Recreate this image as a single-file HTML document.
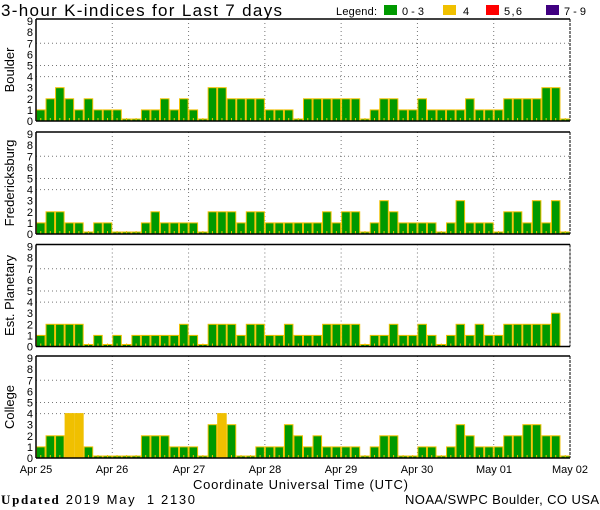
<!DOCTYPE html>
<html><head><meta charset="utf-8"><style>
html,body{margin:0;padding:0;background:#fff;}
svg{display:block;font-family:"Liberation Sans",sans-serif;}
</style></head><body>
<svg id="s" width="600" height="510" xmlns="http://www.w3.org/2000/svg">
<text x="1" y="16" font-size="17" textLength="281" lengthAdjust="spacing">3-hour K-indices for Last 7 days</text>
<text x="336" y="15" font-size="11" textLength="41">Legend:</text>
<rect x="384" y="5" width="13" height="10" fill="#009900"/><text x="402" y="15" font-size="11" textLength="22">0-3</text>
<rect x="443" y="5" width="13" height="10" fill="#f0c000"/><text x="463" y="15" font-size="11">4</text>
<rect x="486" y="5" width="13" height="10" fill="#ff0000"/><text x="504" y="15" font-size="11" textLength="18">5,6</text>
<rect x="546" y="5" width="13" height="10" fill="#400080"/><text x="564" y="15" font-size="11" textLength="22">7-9</text>
<g id="g"></g>
<g font-size="11" text-anchor="middle">
<text x="36" y="473">Apr 25</text><text x="112" y="473">Apr 26</text><text x="189" y="473">Apr 27</text><text x="265" y="473">Apr 28</text><text x="341" y="473">Apr 29</text><text x="417" y="473">Apr 30</text><text x="494" y="473">May 01</text><text x="570" y="473">May 02</text>
</g>
<text x="193" y="489" font-size="13" textLength="215" lengthAdjust="spacing">Coordinate Universal Time (UTC)</text>
<text x="1" y="504" font-size="13" textLength="194" lengthAdjust="spacing"><tspan font-family="Liberation Serif" font-weight="bold">Updated</tspan> 2019 May &#160;1 2130</text>
<text x="405" y="504" font-size="13" textLength="194" lengthAdjust="spacing">NOAA/SWPC Boulder, CO USA</text>
</svg>
<script>
var D=[
["Boulder",[1,2,3,2,1,2,1,1,1,0,0,1,1,2,1,2,1,0,3,3,2,2,2,2,1,1,1,0,2,2,2,2,2,2,0,1,2,2,1,1,2,1,1,1,1,2,1,1,1,2,2,2,2,3,3,0]],
["Fredericksburg",[1,2,2,1,1,0,1,1,0,0,0,1,2,1,1,1,1,0,2,2,2,1,2,2,1,1,1,1,1,1,2,1,2,2,0,1,3,2,1,1,1,1,0,1,3,1,1,1,0,2,2,1,3,1,3,0]],
["Est. Planetary",[1,2,2,2,2,0,1,0,1,0,1,1,1,1,1,2,1,0,2,2,2,1,2,2,1,1,2,1,1,1,2,2,2,2,0,1,1,2,1,1,2,1,0,1,2,1,2,1,1,2,2,2,2,2,3,-1]],
["College",[1,2,2,4,4,1,0,0,0,0,0,2,2,2,1,1,1,0,3,4,3,0,0,1,1,1,3,2,1,2,1,1,1,1,0,1,2,2,0,0,1,1,0,1,3,2,1,1,1,2,2,3,3,2,2,0]]];
var tops=[19,132,244.5,356],L=36,R=570,H=102,u=11.1,bw=(R-L)/56,h="";
D.forEach(function(p,i){var t=tops[i],b=t+H;
[4,5,7].forEach(function(v){var y=b-v*u;h+='<line x1="'+L+'" x2="'+R+'" y1="'+y+'" y2="'+y+'" stroke="#777" stroke-dasharray="1,3"/>';});
for(var d=1;d<7;d++){var x=L+d*8*bw;h+='<line x1="'+x+'" x2="'+x+'" y1="'+t+'" y2="'+b+'" stroke="#777" stroke-dasharray="1,3"/>';}
p[1].forEach(function(v,k){if(v<0)return;var x=L+k*bw,hh=v==0?2:v*u;var c=v>=4?"#f0c000":"#009900";
h+='<rect x="'+(x+0.5)+'" y="'+(b-hh)+'" width="'+(bw-1)+'" height="'+hh+'" fill="'+c+'" stroke="#f0c000" stroke-width="1"/>';
h+='<rect x="'+(x+bw/2-0.5)+'" y="'+(b-3)+'" width="1" height="3" fill="#f0c000"/>';});
h+='<line x1="'+L+'" x2="'+R+'" y1="'+t+'" y2="'+t+'" stroke="#000" stroke-width="1.5"/>';
h+='<line x1="'+L+'" x2="'+R+'" y1="'+b+'" y2="'+b+'" stroke="#000" stroke-width="1.5"/>';
h+='<line x1="'+L+'" x2="'+L+'" y1="'+t+'" y2="'+b+'" stroke="#000" stroke-width="1.5"/>';
h+='<line x1="'+R+'" x2="'+R+'" y1="'+t+'" y2="'+b+'" stroke="#000" stroke-width="1" stroke-dasharray="3,1"/>';
for(var v=0;v<=9;v++){h+='<text x="33" y="'+(b-v*u+4)+'" font-size="11" text-anchor="end">'+v+'</text>';}
var cy=t+H/2;h+='<text x="14" y="'+cy+'" font-size="13" text-anchor="middle" transform="rotate(-90 14 '+cy+')">'+p[0]+'</text>';
});
document.getElementById("g").innerHTML=h;
</script>
</body></html>
